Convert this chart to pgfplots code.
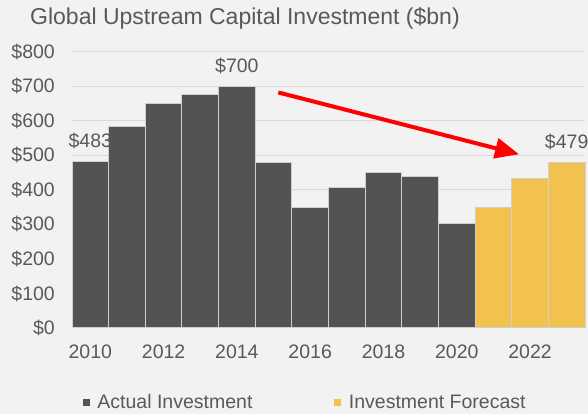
\documentclass[border=0pt]{standalone}
\usepackage{pgfplots}
\pgfplotsset{compat=1.18}
\usepackage{fontspec}
\setmainfont{Liberation Sans}
\usetikzlibrary{arrows.meta}
\definecolor{bg}{HTML}{F2F2F2}
\definecolor{txt}{HTML}{595959}
\definecolor{dark}{HTML}{535353}
\definecolor{gold}{HTML}{F2C24E}
\definecolor{gridc}{HTML}{D9D9D9}
\definecolor{edgec}{HTML}{CFCFCF}
\begin{document}
\begin{tikzpicture}[x=1pt,y=1pt]
\fill[bg] (0,0) rectangle (588,414);
\useasboundingbox (0,0) rectangle (588,414);
\node[anchor=base west, inner sep=0pt, text=txt, font=\fontsize{23}{27}\selectfont] at (30,389) {Global Upstream Capital Investment (\$bn)};
\begin{axis}[
  at={(72pt,86pt)}, anchor=south west,
  scale only axis, width=513pt, height=276.3pt,
  xmin=2009.5, xmax=2023.5, ymin=0, ymax=800,
  axis line style={draw=none},
  major tick length=0pt,
  ymajorgrids, grid style={gridc, line width=1pt},
  ytick={0,100,...,800},
  yticklabels={\$0,\$100,\$200,\$300,\$400,\$500,\$600,\$700,\$800},
  xtick={2010,2012,2014,2016,2018,2020,2022},
  xticklabels={2010,2012,2014,2016,2018,2020,2022},
  tick label style={font=\fontsize{19.5}{23}\selectfont, text=txt, inner sep=0pt},
  yticklabel style={xshift=-17pt},
  xticklabel style={yshift=-17pt},
  clip=false,
  legend columns=2,
  legend style={draw=none, fill=none, at={(0.021,-0.268)}, anchor=west, inner sep=0pt,
    font=\fontsize{19.5}{23}\selectfont, text=txt,
    /tikz/every even column/.append style={column sep=80pt}},
  legend image code/.code={\draw[#1, draw=none] (0pt,-3.5pt) rectangle (7pt,3.5pt); \path (12pt,0pt);},
]
\addplot[ybar, bar width=36.64pt, bar shift=0pt, fill=dark, draw=edgec, line width=1pt]
  coordinates {(2010,483) (2011,583) (2012,650) (2013,677) (2014,700) (2015,479)
               (2016,348) (2017,408) (2018,450) (2019,440) (2020,304)};
\addlegendentry{Actual Investment}
\addplot[ybar, bar width=36.64pt, bar shift=0pt, fill=gold, draw=edgec, line width=1pt]
  coordinates {(2021,348) (2022,433) (2023,479)};
\addlegendentry{Investment Forecast}
\node[anchor=base, inner sep=0pt, text=txt, font=\fontsize{19.5}{23}\selectfont, yshift=14pt] at (axis cs:2010,483) {\$483};
\node[anchor=base, inner sep=0pt, text=txt, font=\fontsize{19.5}{23}\selectfont, yshift=14pt] at (axis cs:2014,700) {\$700};
\node[anchor=base, inner sep=0pt, text=txt, font=\fontsize{19.5}{23}\selectfont, yshift=14pt] at (axis cs:2023,479) {\$479};
\draw[red, line width=4pt, -{Triangle[length=24pt,width=20pt]}] (axis cs:2015.13,682) -- (axis cs:2021.7,503);
\end{axis}
\end{tikzpicture}
\end{document}
